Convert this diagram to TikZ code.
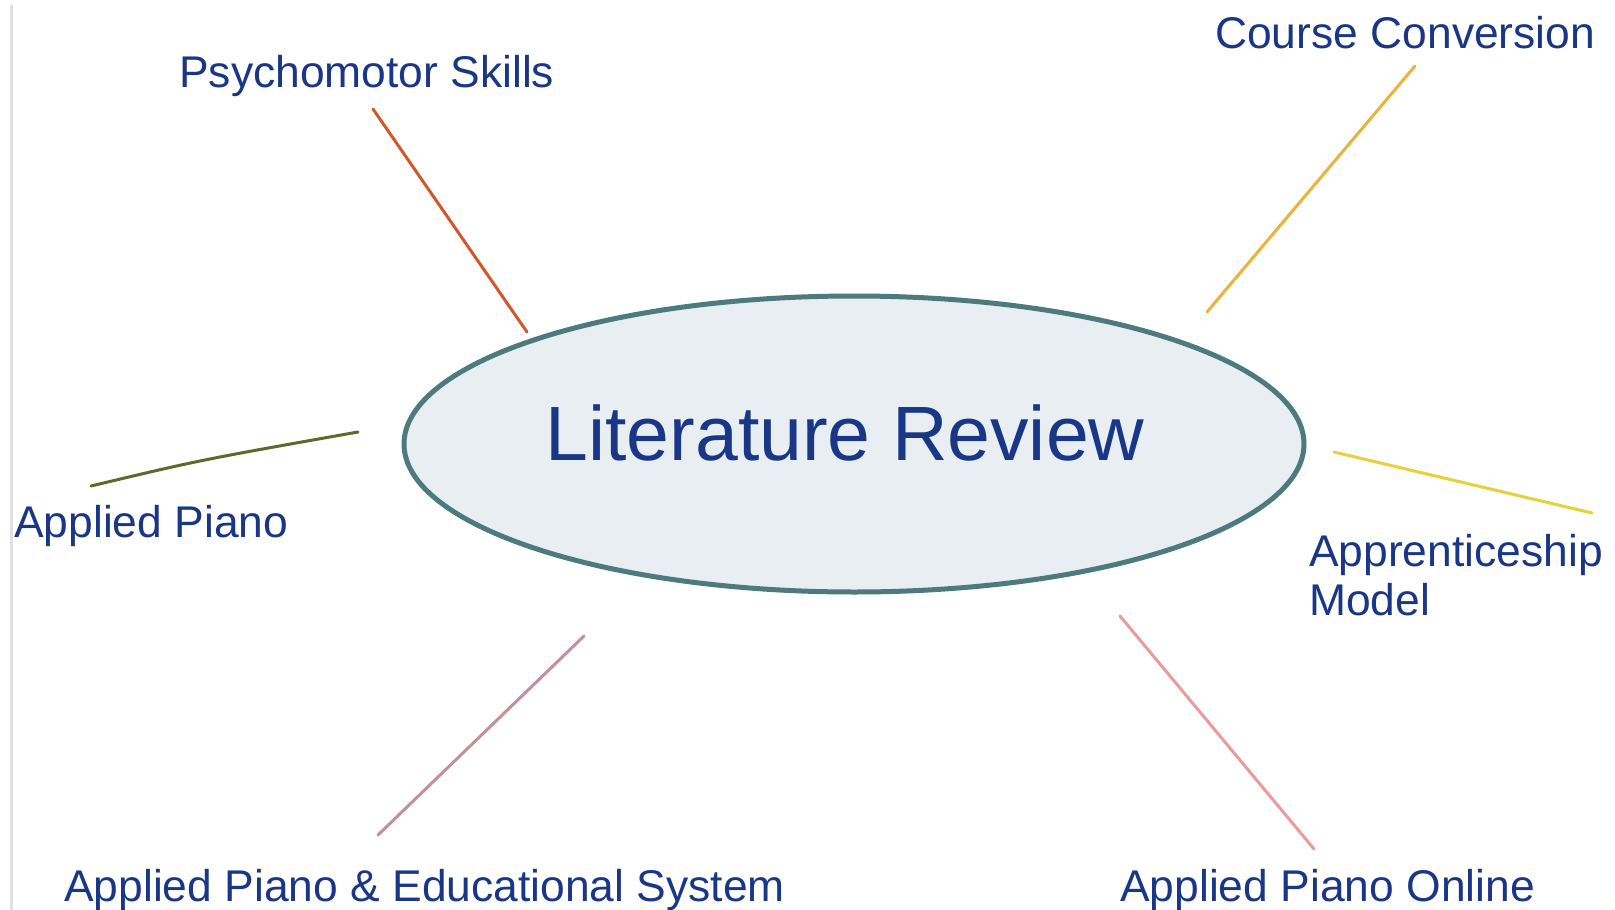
\documentclass[tikz,border=0pt]{standalone}
\usepackage{fontspec}
\setmainfont{Liberation Sans}
\definecolor{txtblue}{HTML}{1A3686}
\definecolor{ellfill}{HTML}{E8EEF1}
\definecolor{elldraw}{HTML}{4D7A7C}
\definecolor{cOrange}{HTML}{D0582A}
\definecolor{cGold}{HTML}{E8B43A}
\definecolor{cOlive}{HTML}{5C6A2E}
\definecolor{cYellow}{HTML}{E6D238}
\definecolor{cMauve}{HTML}{C2909C}
\definecolor{cSalmon}{HTML}{EA9C9C}
\begin{document}
\begin{tikzpicture}[x=1pt,y=-1pt,
  lbl/.style={anchor=base west,inner sep=0pt,text=txtblue,font=\fontsize{44.4}{49}\selectfont,align=left},
  conn/.style={line width=3pt,line cap=round}]
\useasboundingbox (0,0) rectangle (1615,910);
\fill[white] (0,0) rectangle (1615,910);
\draw[line width=3pt,color=black!12] (11,5) -- (11,910);
% central ellipse
\draw[fill=ellfill,draw=elldraw,line width=5pt] (854,444) ellipse [x radius=450,y radius=148];
\node[anchor=base,inner sep=0pt,text=txtblue,font=\fontsize{77}{80}\selectfont] (lit) at (845,460) {Literature Review};
% labels
\node[lbl] (psy) at (179,87) {Psychomotor Skills};
\node[lbl] (cc) at (1215,48) {Course Conversion};
\node[lbl] (ap) at (14,537) {Applied Piano};
\node[lbl] (am) at (1309,615) {Apprenticeship\\Model};
\node[lbl] (ape) at (64,901) {Applied Piano \& Educational System};
\node[lbl] (apo) at (1120,901) {Applied Piano Online};
% connector end points
\coordinate (psyA) at (373,109); \coordinate (psyB) at (527,332);
\coordinate (ccA) at (1415,66);  \coordinate (ccB) at (1207,312);
\coordinate (apA) at (91,486);   \coordinate (apB) at (358,432);
\coordinate (amA) at (1334,452); \coordinate (amB) at (1592,513);
\coordinate (apeA) at (378,835); \coordinate (apeB) at (584,636);
\coordinate (apoA) at (1314,849);\coordinate (apoB) at (1120,616);
\draw[conn,cOrange] (psyA) -- (psyB);
\draw[conn,cGold] (ccA) -- (ccB);
\draw[conn,cOlive] (apA) .. controls (200,460) .. (apB);
\draw[conn,cYellow] (amA) -- (amB);
\draw[conn,cMauve] (apeA) -- (apeB);
\draw[conn,cSalmon] (apoA) -- (apoB);
\end{tikzpicture}
\end{document}
